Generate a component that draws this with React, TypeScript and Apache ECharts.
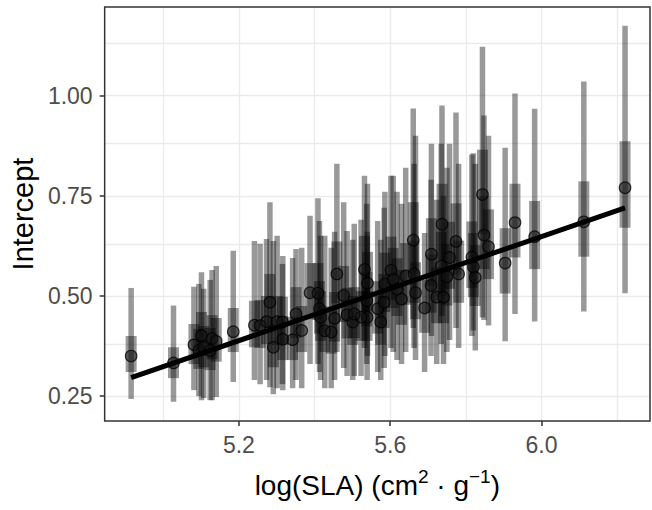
import React, { useEffect, useRef } from "react";
import * as echarts from "echarts";

// log(SLA) per species
const sla = [
  4.915, 5.027, 5.081, 5.094, 5.101, 5.107, 5.124, 5.129, 5.14, 5.185,
  5.241, 5.256, 5.273, 5.282, 5.291, 5.301, 5.315, 5.316, 5.342, 5.351,
  5.366, 5.388, 5.409, 5.413, 5.416, 5.427, 5.444, 5.453, 5.459, 5.477,
  5.486, 5.501, 5.532, 5.538, 5.54, 5.539, 5.567, 5.575, 5.584, 5.586,
  5.602, 5.608, 5.618, 5.63, 5.641, 5.661, 5.667, 5.691, 5.709, 5.708,
  5.723, 5.741, 5.737, 5.735, 5.75, 5.757, 5.774, 5.781, 5.816, 5.82,
  5.825, 5.844, 5.848, 5.86, 5.904, 5.93, 5.982, 6.112, 6.221,
  5.523, 5.663, 5.505,
];
// posterior mean intercept
const intercept = [
  0.35, 0.333, 0.378, 0.364, 0.401, 0.372, 0.364, 0.394, 0.387, 0.411,
  0.427, 0.426, 0.436, 0.484, 0.372, 0.436, 0.435, 0.392, 0.391, 0.455,
  0.414, 0.508, 0.507, 0.468, 0.447, 0.413, 0.41, 0.444, 0.555, 0.501,
  0.453, 0.435, 0.566, 0.488, 0.532, 0.447, 0.468, 0.435, 0.484, 0.53,
  0.564, 0.541, 0.517, 0.492, 0.55, 0.639, 0.508, 0.47, 0.604, 0.526,
  0.497, 0.497, 0.679, 0.575, 0.548, 0.596, 0.636, 0.555, 0.597, 0.572,
  0.546, 0.753, 0.652, 0.623, 0.582, 0.683, 0.648, 0.685, 0.77,
  0.447, 0.555, 0.455,
];
// outer interval (thin bars)
const lo95 = [
  0.243, 0.236, 0.265, 0.25, 0.24, 0.245, 0.24, 0.24, 0.248, 0.285,
  0.29, 0.28, 0.29, 0.272, 0.255, 0.27, 0.28, 0.265, 0.27, 0.29,
  0.27, 0.33, 0.33, 0.31, 0.29, 0.27, 0.27, 0.29, 0.36, 0.32,
  0.3, 0.29, 0.37, 0.33, 0.35, 0.29, 0.31, 0.29, 0.32, 0.35,
  0.37, 0.36, 0.34, 0.33, 0.36, 0.42, 0.34, 0.31, 0.4, 0.35,
  0.33, 0.33, 0.45, 0.38, 0.36, 0.39, 0.42, 0.37, 0.4, 0.414,
  0.364, 0.446, 0.44, 0.426, 0.387, 0.455, 0.436, 0.461, 0.507,
  0.3, 0.37, 0.3,
];
const hi95 = [
  0.52, 0.476, 0.523, 0.53, 0.559, 0.518, 0.54, 0.565, 0.575, 0.613,
  0.637, 0.63, 0.642, 0.734, 0.637, 0.65, 0.58, 0.6, 0.595, 0.617,
  0.62, 0.7, 0.744, 0.687, 0.65, 0.65, 0.62, 0.66, 0.83, 0.734,
  0.662, 0.64, 0.8, 0.73, 0.78, 0.66, 0.687, 0.64, 0.72, 0.76,
  0.8, 0.8, 0.76, 0.73, 0.82, 0.968, 0.9, 0.657, 0.88, 0.79,
  0.74, 0.75, 0.975, 0.88, 0.82, 0.88, 0.958, 0.83, 0.853, 0.856,
  0.83, 1.122, 0.95, 0.9, 0.87, 1.005, 0.967, 1.035, 1.174,
  0.69, 0.83, 0.68,
];
// inner interval (thick bars)
const lo50 = [
  0.31, 0.295, 0.33, 0.318, 0.35, 0.322, 0.315, 0.342, 0.336, 0.36,
  0.372, 0.37, 0.38, 0.42, 0.322, 0.378, 0.378, 0.34, 0.34, 0.395,
  0.36, 0.442, 0.44, 0.406, 0.388, 0.36, 0.356, 0.386, 0.482, 0.435,
  0.394, 0.378, 0.492, 0.424, 0.462, 0.388, 0.406, 0.378, 0.42, 0.46,
  0.49, 0.47, 0.45, 0.428, 0.478, 0.555, 0.442, 0.408, 0.525, 0.458,
  0.432, 0.432, 0.59, 0.5, 0.476, 0.518, 0.553, 0.483, 0.52, 0.497,
  0.475, 0.655, 0.567, 0.542, 0.506, 0.596, 0.567, 0.598, 0.67,
  0.388, 0.483, 0.395,
];
const hi50 = [
  0.4, 0.372, 0.43, 0.418, 0.46, 0.425, 0.42, 0.452, 0.445, 0.47,
  0.488, 0.49, 0.5, 0.555, 0.428, 0.5, 0.498, 0.45, 0.448, 0.522,
  0.475, 0.582, 0.582, 0.537, 0.512, 0.474, 0.47, 0.51, 0.636, 0.575,
  0.52, 0.5, 0.65, 0.56, 0.61, 0.512, 0.537, 0.5, 0.555, 0.608,
  0.648, 0.62, 0.594, 0.565, 0.632, 0.734, 0.584, 0.54, 0.694, 0.604,
  0.571, 0.571, 0.78, 0.66, 0.63, 0.685, 0.731, 0.638, 0.686, 0.657,
  0.627, 0.865, 0.749, 0.716, 0.669, 0.78, 0.737, 0.786, 0.886,
  0.512, 0.638, 0.522,
];
// fitted regression line end points
const fitX = [4.915, 6.221];
const fitY = [0.296, 0.72];

// axis ticks / grid
const xMajor = [5.2, 5.6, 6.0];
const xMinor = [5.0, 5.4, 5.8, 6.2];
const yMajor = [0.25, 0.5, 0.75, 1.0];
const yMinor = [0.375, 0.625, 0.875, 1.125];

const FONT = "'Liberation Sans', Arial, Helvetica, sans-serif";

export default function App() {
  const ref = useRef<HTMLDivElement>(null);
  useEffect(() => {
    if (!ref.current) return;
    const chart = echarts.init(ref.current, undefined, { renderer: "svg" });
    const barData = sla.map((x, i) => [x, lo95[i], hi95[i], lo50[i], hi50[i]]);
    const ptData = sla.map((x, i) => [x, intercept[i]]);
    const gridColor = "#EBEBEB";
    const option: any = {
      animation: false,
      backgroundColor: "#ffffff",
      textStyle: { fontFamily: FONT },
      grid: {
        left: 103,
        right: 2,
        top: 7,
        bottom: 89,
        show: true,
        borderColor: "#333333",
        borderWidth: 1.5,
        backgroundColor: "transparent",
        z: 10,
      },
      xAxis: {
        type: "value",
        min: 4.845,
        max: 6.287,
        axisLine: { show: false },
        splitLine: { show: false },
        axisTick: {
          show: true,
          customValues: xMajor,
          length: 5,
          lineStyle: { color: "#333333", width: 1.5 },
        },
        axisLabel: {
          customValues: xMajor,
          formatter: (v: number) => v.toFixed(1),
          color: "#4D4D4D",
          fontSize: 23,
          fontFamily: FONT,
          margin: 12,
        },
        name: "log(SLA) (cm{sup|2} · g{sup|−1})",
        nameLocation: "middle",
        nameGap: 46,
        nameTextStyle: {
          color: "#000000",
          fontSize: 28,
          fontFamily: FONT,
          lineHeight: 36,
          rich: {
            sup: { fontSize: 19, fontFamily: FONT, color: "#000000", verticalAlign: "top", lineHeight: 22 },
          },
        },
      },
      yAxis: {
        type: "value",
        min: 0.188,
        max: 1.221,
        axisLine: { show: false },
        splitLine: { show: false },
        axisTick: {
          show: true,
          customValues: yMajor,
          length: 5,
          lineStyle: { color: "#333333", width: 1.5 },
        },
        axisLabel: {
          customValues: yMajor,
          formatter: (v: number) => v.toFixed(2),
          color: "#4D4D4D",
          fontSize: 23,
          fontFamily: FONT,
          margin: 12,
        },
        name: "Intercept",
        nameLocation: "middle",
        nameGap: 67,
        nameTextStyle: { color: "#000000", fontSize: 29, fontFamily: FONT },
      },
      series: [
        {
          type: "line",
          data: [],
          silent: true,
          z: 0,
          markLine: {
            silent: true,
            z: 0,
            symbol: "none",
            label: { show: false },
            animation: false,
            lineStyle: { color: gridColor, width: 1.3, type: "solid" },
            data: [
              ...xMinor.map((v) => ({ xAxis: v })),
              ...yMinor.map((v) => ({ yAxis: v })),
              ...xMajor.map((v) => ({ xAxis: v })),
              ...yMajor.map((v) => ({ yAxis: v })),
            ],
          },
        },
        {
          type: "custom",
          data: barData,
          z: 2,
          encode: { x: 0, y: [1, 2, 3, 4] },
          renderItem: (params: any, api: any) => {
            const x = api.value(0);
            const a = api.coord([x, api.value(1)]);
            const b = api.coord([x, api.value(2)]);
            const c = api.coord([x, api.value(3)]);
            const d = api.coord([x, api.value(4)]);
            const thin = 5.5;
            const thick = 11;
            return {
              type: "group",
              children: [
                {
                  type: "rect",
                  shape: { x: a[0] - thin / 2, y: b[1], width: thin, height: a[1] - b[1] },
                  style: { fill: "rgba(0,0,0,0.4)" },
                },
                {
                  type: "rect",
                  shape: { x: c[0] - thick / 2, y: d[1], width: thick, height: c[1] - d[1] },
                  style: { fill: "rgba(0,0,0,0.4)" },
                },
              ],
            };
          },
        },
        {
          type: "scatter",
          data: ptData,
          z: 3,
          symbol: "circle",
          symbolSize: 11.5,
          itemStyle: {
            color: "rgba(20,20,20,0.5)",
            borderColor: "rgba(0,0,0,0.75)",
            borderWidth: 1.2,
            opacity: 1,
          },
        },
        {
          type: "line",
          data: fitX.map((x, i) => [x, fitY[i]]),
          z: 4,
          symbol: "none",
          lineStyle: { color: "#000000", width: 5 },
        },
      ],
    };
    chart.setOption(option);
    return () => chart.dispose();
  }, []);
  return (
    <div
      ref={ref}
      style={{ position: "fixed", left: 0, top: 0, width: 652, height: 510 }}
    />
  );
}
